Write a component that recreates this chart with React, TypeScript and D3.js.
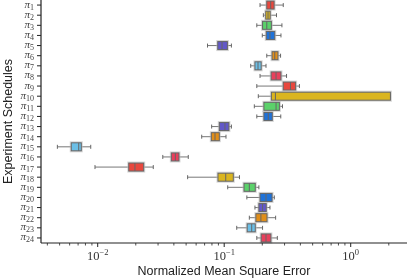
import * as d3 from "d3";

// Experiment schedules pi_1 .. pi_24 (top to bottom)
const schedules = d3.range(1, 25).map((i) => `${i}`);

// Box plot stats (normalized MSE)
const whiskerLow = [0.192, 0.204, 0.181, 0.2, 0.0738, 0.217, 0.162, 0.192, 0.181, 0.186, 0.173, 0.181, 0.0796, 0.0664, 0.0048, 0.0327, 0.00952, 0.0514, 0.1066, 0.151, 0.175, 0.158, 0.1256, 0.181];
const q1 = [0.217, 0.213, 0.201, 0.215, 0.0889, 0.239, 0.175, 0.235, 0.293, 0.236, 0.206, 0.206, 0.0915, 0.0791, 0.00618, 0.0382, 0.0176, 0.0893, 0.1434, 0.192, 0.188, 0.178, 0.152, 0.196];
const medians = [0.233, 0.222, 0.217, 0.23, 0.0961, 0.251, 0.185, 0.257, 0.334, 0.254, 0.257, 0.223, 0.1014, 0.0846, 0.00708, 0.0411, 0.0197, 0.1028, 0.158, 0.214, 0.201, 0.195, 0.165, 0.214];
const q3 = [0.248, 0.231, 0.236, 0.251, 0.106, 0.266, 0.196, 0.281, 0.367, 2.06, 0.273, 0.24, 0.109, 0.0915, 0.00742, 0.0439, 0.0231, 0.118, 0.176, 0.239, 0.215, 0.218, 0.176, 0.234];
const whiskerHigh = [0.293, 0.259, 0.286, 0.281, 0.114, 0.279, 0.214, 0.311, 0.393, 2.06, 0.289, 0.28, 0.114, 0.1033, 0.00881, 0.052, 0.0275, 0.132, 0.188, 0.249, 0.23, 0.255, 0.201, 0.263];

const palette = ["#e8483e", "#dab51f", "#5bd16a", "#1f72d8", "#6258c8", "#e08e1a", "#6cbfe6", "#e8405c"];

const majorTicks = [1e-2, 1e-1, 1e0];
const majorExp = ["\u22122", "\u22121", "0"];

const W = 407;
const H = 279;
const M = { left: 41, right: 0, top: 0, bottom: 36 };

export default function App() {
  const x = d3.scaleLog().domain([0.003563, 2.786]).range([M.left, W - M.right]);
  const y = d3.scaleBand().domain(schedules).range([M.top, H - M.bottom]).padding(0);
  const bw = y.bandwidth();
  const boxH = 8;

  const [d0, d1] = x.domain();
  const minorTicks: number[] = [];
  for (let e = -3; e <= 0; e++) {
    for (let m = 2; m <= 9; m++) {
      const v = m * Math.pow(10, e);
      if (v >= d0 && v <= d1) minorTicks.push(v);
    }
  }

  const rows = schedules.map((s, i) => ({
    s,
    lo: whiskerLow[i],
    q1: q1[i],
    med: medians[i],
    q3: q3[i],
    hi: whiskerHigh[i],
    color: palette[i % palette.length],
  }));

  const bottom = H - M.bottom;

  return (
    <div style={{ position: "fixed", left: 0, top: 0 }}>
      <svg width={W} height={H} style={{ display: "block" }}>
        {/* boxes */}
        {rows.map((r) => {
          const cy = (y(r.s) ?? 0) + bw / 2;
          const capH = 4;
          return (
            <g key={r.s}>
              <line x1={x(r.lo)} x2={x(r.q1)} y1={cy} y2={cy} stroke="#777" strokeWidth={1} />
              <line x1={x(r.q3)} x2={x(r.hi)} y1={cy} y2={cy} stroke="#777" strokeWidth={1} />
              <line x1={x(r.lo)} x2={x(r.lo)} y1={cy - capH / 2} y2={cy + capH / 2} stroke="#666" strokeWidth={1} />
              <line x1={x(r.hi)} x2={x(r.hi)} y1={cy - capH / 2} y2={cy + capH / 2} stroke="#666" strokeWidth={1} />
              <rect
                x={x(r.q1)}
                y={cy - boxH / 2}
                width={x(r.q3) - x(r.q1)}
                height={boxH}
                fill="none"
                stroke="#bbb"
                strokeOpacity={0.6}
                strokeWidth={3}
              />
              <rect
                x={x(r.q1)}
                y={cy - boxH / 2}
                width={x(r.q3) - x(r.q1)}
                height={boxH}
                fill={r.color}
                stroke="#666"
                strokeWidth={1}
              />
              <line x1={x(r.med)} x2={x(r.med)} y1={cy - boxH / 2} y2={cy + boxH / 2} stroke="#666" strokeWidth={1} />
            </g>
          );
        })}

        {/* y axis */}
        <line x1={M.left} x2={M.left} y1={M.top} y2={bottom} stroke="#222" strokeWidth={1.2} />
        {rows.map((r) => {
          const cy = (y(r.s) ?? 0) + bw / 2;
          return (
            <g key={"yt" + r.s}>
              <line x1={M.left - 4} x2={M.left} y1={cy} y2={cy} stroke="#222" strokeWidth={1} />
              <text x={34} y={cy + 2.5} textAnchor="end" fontFamily="Liberation Serif" fontSize={11} fill="#444">
                <tspan fontStyle="italic">π</tspan>
                <tspan fontSize={8} dy={2}>{r.s}</tspan>
              </text>
            </g>
          );
        })}

        {/* x axis */}
        <line x1={M.left} x2={W} y1={bottom} y2={bottom} stroke="#222" strokeWidth={1.2} />
        {minorTicks.map((t) => (
          <line key={"mt" + t} x1={x(t)} x2={x(t)} y1={bottom} y2={bottom + 2.5} stroke="#222" strokeWidth={0.8} />
        ))}
        {majorTicks.map((t, i) => (
          <g key={"Mt" + t}>
            <line x1={x(t)} x2={x(t)} y1={bottom} y2={bottom + 4} stroke="#222" strokeWidth={1} />
            <text x={x(t)} y={bottom + 17} textAnchor="middle" fontFamily="Liberation Serif" fontSize={12.5} fill="#333">
              10
              <tspan fontSize={8.5} dy={-5}>{majorExp[i]}</tspan>
            </text>
          </g>
        ))}

        <text
          x={(M.left + W) / 2}
          y={H - 4}
          textAnchor="middle"
          fontFamily="Liberation Sans, Arial, sans-serif"
          fontSize={12.5}
          fill="#222"
        >
          Normalized Mean Square Error
        </text>
        <text
          transform={`translate(12,${(M.top + bottom) / 2}) rotate(-90)`}
          textAnchor="middle"
          fontFamily="Liberation Sans, Arial, sans-serif"
          fontSize={12.5}
          fill="#222"
        >
          Experiment Schedules
        </text>
      </svg>
    </div>
  );
}
